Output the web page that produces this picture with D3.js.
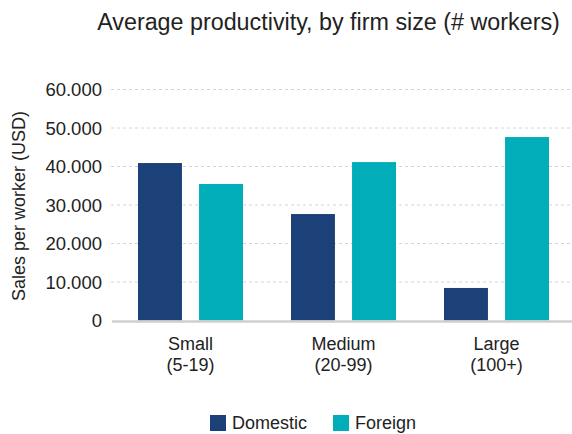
<!DOCTYPE html>
<html>
<head>
<meta charset="utf-8">
<script src="https://cdn.jsdelivr.net/npm/d3@7"></script>
<style>
  body { margin: 0; background: #fff; }
  text { font-family: "Liberation Sans", Arial, sans-serif; fill: #222; }
</style>
</head>
<body>
<div id="chart"></div>
<script>
const categories = ['Small', 'Medium', 'Large']
const subLabels = ['(5-19)', '(20-99)', '(100+)']
const series = ['Domestic', 'Foreign']
const domestic = [40900, 27650, 8450]
const foreign = [35450, 41150, 47650]
const yTicks = [0, 10000, 20000, 30000, 40000, 50000, 60000]

const width = 572
const height = 434

const svg = d3.select('#chart')
  .append('svg')
  .attr('width', width)
  .attr('height', height)

// colours for the two series
const colorScale = d3.scaleOrdinal()
  .domain(series)
  .range(['#1c4178', '#00adb9'])

const x = d3.scaleBand()
  .domain(categories)
  .range([114, 573])
  .paddingInner(0)
  .paddingOuter(0)

const x1 = d3.scaleBand()
  .domain(series)
  .range([24, x.bandwidth() - 24])
  .paddingInner(0.28)

const y = d3.scaleLinear()
  .domain([0, 60000])
  .range([320.5, 89.5])

// gridlines
svg.append('g')
  .selectAll('line')
  .data(yTicks.filter(d => d > 0))
  .enter()
  .append('line')
  .attr('x1', 111)
  .attr('x2', width)
  .attr('y1', d => y(d))
  .attr('y2', d => y(d))
  .attr('stroke', '#d4d4d4')
  .attr('stroke-dasharray', '3,3')

// y tick labels
const fmt = d => d === 0 ? '0' : d3.format(',')(d).replace(',', '.')
svg.append('g')
  .selectAll('text')
  .data(yTicks)
  .enter()
  .append('text')
  .attr('x', 102)
  .attr('y', d => y(d))
  .attr('dy', '0.36em')
  .attr('text-anchor', 'end')
  .style('font-size', '18.5px')
  .text(fmt)

// bars
const rows = categories.map((c, i) => ({ cat: c, values: [
  { key: 'Domestic', value: domestic[i] },
  { key: 'Foreign', value: foreign[i] }
] }))

const groups = svg.append('g')
  .selectAll('g')
  .data(rows)
  .enter()
  .append('g')
  .attr('transform', d => 'translate(' + x(d.cat) + ',0)')

groups.selectAll('rect')
  .data(d => d.values)
  .enter()
  .append('rect')
  .attr('x', d => x1(d.key))
  .attr('width', x1.bandwidth())
  .attr('y', d => y(d.value))
  .attr('height', d => y(0) - y(d.value))
  .attr('fill', d => colorScale(d.key))

// baseline
svg.append('line')
  .attr('x1', 112)
  .attr('x2', width)
  .attr('y1', y(0) + 1)
  .attr('y2', y(0) + 1)
  .attr('stroke', '#cfcfcf')
  .attr('stroke-width', 2.5)

// category labels
const catLabels = svg.append('g')
  .selectAll('text')
  .data(categories)
  .enter()
  .append('text')
  .attr('text-anchor', 'middle')
  .attr('x', d => x(d) + x.bandwidth() / 2)
  .style('font-size', '18px')

catLabels.append('tspan')
  .attr('x', d => x(d) + x.bandwidth() / 2)
  .attr('y', 350)
  .text(d => d)
catLabels.append('tspan')
  .attr('x', d => x(d) + x.bandwidth() / 2)
  .attr('y', 371)
  .text((d, i) => subLabels[i])

// y axis title
svg.append('text')
  .attr('transform', 'translate(25,206) rotate(-90)')
  .attr('text-anchor', 'middle')
  .style('font-size', '18px')
  .text('Sales per worker (USD)')

// title
svg.append('text')
  .attr('x', 328.5)
  .attr('y', 30)
  .attr('text-anchor', 'middle')
  .style('font-size', '23.3px')
  .text('Average productivity, by firm size (# workers)')

// legend
const legendX = [210, 333]
const legend = svg.append('g')
  .selectAll('g')
  .data(series)
  .enter()
  .append('g')
  .attr('transform', (d, i) => 'translate(' + legendX[i] + ',415)')

legend.append('rect')
  .attr('width', 16)
  .attr('height', 16)
  .attr('fill', d => colorScale(d))

legend.append('text')
  .attr('x', 22)
  .attr('y', 14)
  .style('font-size', '18px')
  .text(d => d)
</script>
</body>
</html>
